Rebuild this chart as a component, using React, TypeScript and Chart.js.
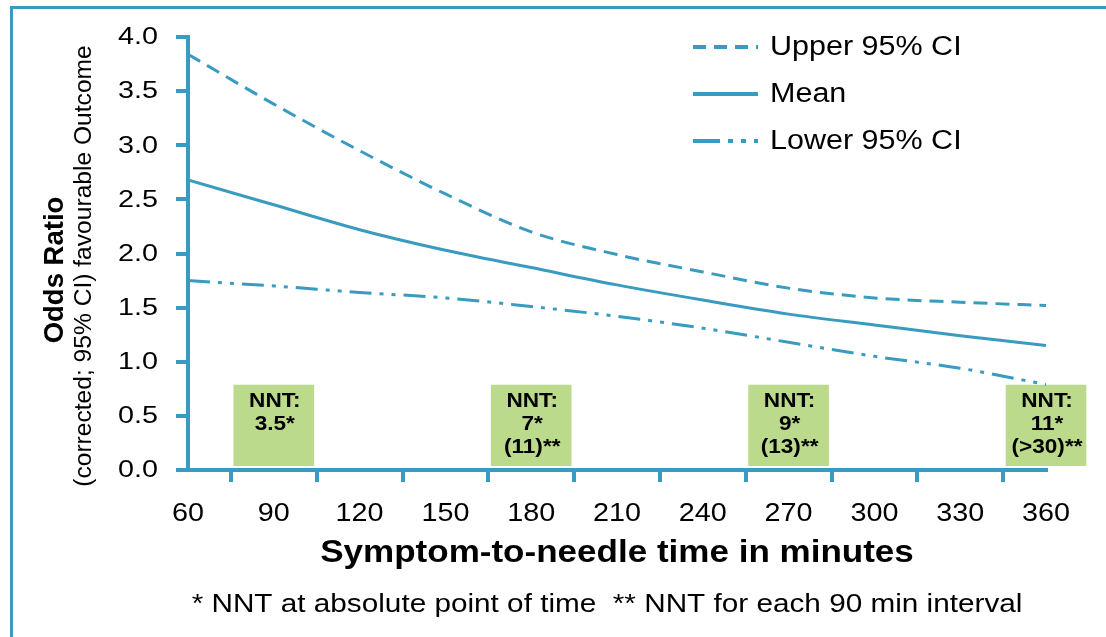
import React, { useEffect, useRef } from "react";
import { Chart, registerables } from "chart.js";
Chart.register(...registerables);

// ---- data ----
const minutes = [60, 90, 120, 150, 180, 210, 240, 270, 300, 330, 360];
const upperCI = [3.84, 3.38, 2.95, 2.55, 2.2, 1.99, 1.83, 1.68, 1.59, 1.55, 1.52];
const meanOR = [2.68, 2.45, 2.22, 2.03, 1.87, 1.71, 1.57, 1.44, 1.34, 1.24, 1.15];
const lowerCI = [1.75, 1.7, 1.64, 1.59, 1.51, 1.42, 1.31, 1.18, 1.05, 0.94, 0.79];
const seriesNames = ["Upper 95% CI", "Mean", "Lower 95% CI"];
const nntTimes = [90, 180, 270, 360];
const nntLabels = [
  ["NNT:", "3.5*"],
  ["NNT:", "7*", "(11)**"],
  ["NNT:", "9*", "(13)**"],
  ["NNT:", "11*", "(>30)**"],
];
const nntBoxRange = [0.04, 0.785];
const xTicksStep = 30;
const yTicksStep = 0.5;
const xTitle = "Symptom-to-needle time in minutes";
const yTitleBold = "Odds Ratio";
const yTitleSub = "(corrected; 95% CI) favourable Outcome";
const footnote = "* NNT at absolute point of time  ** NNT for each 90 min interval";

// ---- styles ----
const COLOR = "#399bc0";
const BOX = "#bbda8b";
const FONT = "'Liberation Sans', Arial, Helvetica, sans-serif";
const SX = 1.13;
const LEGEND_DASH = [[13, 8], [], [27, 8, 5, 8, 5, 8]];

function sText(
  ctx: CanvasRenderingContext2D,
  text: string,
  x: number,
  y: number,
  font: string,
  align: CanvasTextAlign,
  sx: number = SX
) {
  ctx.save();
  ctx.font = font;
  ctx.fillStyle = "#000";
  ctx.textBaseline = "middle";
  ctx.textAlign = align;
  ctx.translate(x, y);
  ctx.scale(sx, 1);
  ctx.fillText(text, 0, 0);
  ctx.restore();
}

const decorPlugin = {
  id: "decor",
  beforeDraw(chart: any) {
    const ctx = chart.ctx as CanvasRenderingContext2D;
    ctx.save();
    ctx.fillStyle = "#fff";
    ctx.fillRect(0, 0, chart.width, chart.height);
    ctx.fillStyle = COLOR;
    ctx.fillRect(10, 6, chart.width - 10, 3);
    ctx.fillRect(10, 6, 3, chart.height - 6);
    ctx.restore();
  },
  afterDraw(chart: any) {
    const ctx = chart.ctx as CanvasRenderingContext2D;
    const xs = chart.scales.x;
    const ys = chart.scales.y;
    // tick labels (drawn from the library's scales, horizontally widened)
    ys.ticks.forEach((t: any) => {
      sText(ctx, Number(t.value).toFixed(1), 158, ys.getPixelForValue(t.value) + 1, `23px ${FONT}`, "right", 1.25);
    });
    xs.ticks.forEach((t: any) => {
      sText(ctx, String(t.value), xs.getPixelForValue(t.value), 514, `25px ${FONT}`, "center", 1.15);
    });
    // NNT texts
    const top = ys.getPixelForValue(nntBoxRange[1]);
    nntLabels.forEach((lines, i) => {
      const cx = xs.getPixelForValue(nntTimes[i]);
      lines.forEach((t, j) => {
        sText(ctx, t, cx + 1, top + 16 + j * 23, `bold 20px ${FONT}`, "center");
      });
    });
    // legend
    const ly = [47, 94, 141];
    for (let i = 0; i < 3; i++) {
      ctx.save();
      ctx.strokeStyle = COLOR;
      ctx.lineWidth = 4;
      ctx.setLineDash(LEGEND_DASH[i]);
      ctx.beginPath();
      ctx.moveTo(693, ly[i]);
      ctx.lineTo(758, ly[i]);
      ctx.stroke();
      ctx.restore();
      sText(ctx, seriesNames[i], 770, ly[i] + 1, `27px ${FONT}`, "left");
    }
    // axis titles
    sText(ctx, xTitle, (chart.chartArea.left + chart.chartArea.right) / 2, 553, `bold 31px ${FONT}`, "center");
    sText(ctx, footnote, 607, 605, `26.3px ${FONT}`, "center");
    ctx.save();
    ctx.fillStyle = "#000";
    ctx.textAlign = "center";
    ctx.textBaseline = "middle";
    ctx.translate(55, 270);
    ctx.rotate(-Math.PI / 2);
    ctx.font = `bold 27.5px ${FONT}`;
    ctx.fillText(yTitleBold, 0, 0);
    ctx.restore();
    ctx.save();
    ctx.fillStyle = "#000";
    ctx.textAlign = "center";
    ctx.textBaseline = "middle";
    ctx.translate(84, 266);
    ctx.rotate(-Math.PI / 2);
    ctx.font = `24.6px ${FONT}`;
    ctx.fillText(yTitleSub, 0, 0);
    ctx.restore();
  },
};

export default function App() {
  const ref = useRef<HTMLCanvasElement | null>(null);
  useEffect(() => {
    if (!ref.current) return;
    const line = (i: number, vals: number[], dash: number[]) => ({
      type: "line" as const,
      label: seriesNames[i],
      data: minutes.map((m, k) => ({ x: m, y: vals[k] })),
      borderColor: COLOR,
      borderWidth: 3,
      borderDash: dash,
      pointRadius: 0,
      cubicInterpolationMode: "monotone" as const,
      fill: false,
      order: 1,
    });
    const chart = new Chart(ref.current, {
      type: "line",
      data: {
        datasets: [
          {
            type: "bar",
            label: "NNT",
            data: nntTimes.map((t) => ({ x: t, y: nntBoxRange })) as any,
            backgroundColor: BOX,
            borderWidth: 0,
            barThickness: 80,
            grouped: false,
            clip: false,
            order: 10,
          } as any,
          line(0, upperCI, [14, 8]),
          line(1, meanOR, []),
          line(2, lowerCI, [22, 8, 4, 8, 4, 8]),
        ],
      },
      options: {
        responsive: false,
        animation: false,
        devicePixelRatio: 1,
        layout: { padding: { left: 0, top: 37, right: 60, bottom: 0 } },
        plugins: { legend: { display: false }, tooltip: { enabled: false } },
        scales: {
          x: {
            type: "linear",
            min: 60,
            max: 360,
            offset: false,
            ticks: {
              stepSize: xTicksStep,
              autoSkip: false,
              maxRotation: 0,
              color: "rgba(0,0,0,0)",
              padding: 14,
              font: { size: 25, family: FONT },
            },
            grid: { drawOnChartArea: false, drawTicks: true, tickLength: 12, color: COLOR, lineWidth: 4 },
            border: { color: COLOR, width: 4 },
            afterFit: (s: any) => {
              s.height = 167;
            },
          },
          y: {
            type: "linear",
            min: 0,
            max: 4,
            ticks: {
              stepSize: yTicksStep,
              color: "rgba(0,0,0,0)",
              padding: 18,
              font: { size: 23, family: FONT },
              callback: (v: any) => Number(v).toFixed(1),
            },
            grid: { drawOnChartArea: false, drawTicks: true, tickLength: 12, color: COLOR, lineWidth: 4 },
            border: { color: COLOR, width: 4 },
            afterFit: (s: any) => {
              s.width = 188;
            },
          },
        },
      },
      plugins: [decorPlugin],
    });
    return () => chart.destroy();
  }, []);
  return (
    <div style={{ position: "fixed", left: 0, top: 0, width: 1106, height: 637, background: "#fff" }}>
      <canvas ref={ref} width={1106} height={637} style={{ display: "block" }} />
    </div>
  );
}
